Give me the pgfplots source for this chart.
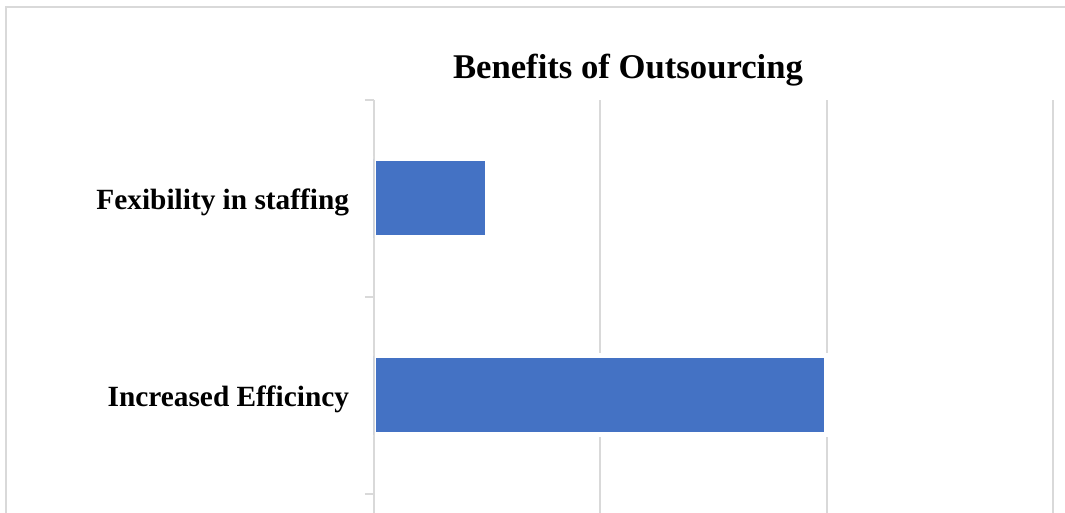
\documentclass[border=0pt]{standalone}
\usepackage{fontspec}
\setmainfont{Liberation Serif}
\usepackage{pgfplots}
\pgfplotsset{compat=1.18}
\definecolor{barblue}{HTML}{4472C4}
\definecolor{gridgray}{HTML}{D9D9D9}
\begin{document}
\begin{tikzpicture}[x=0.75pt,y=0.75pt]
\useasboundingbox (0,0) rectangle (1065,513);
\clip (0,0) rectangle (1065,513);
\fill[white] (0,0) rectangle (1065,513);
\draw[gridgray, line width=1.5pt] (6,-10) -- (6,506) -- (1080,506);
\begin{axis}[
  at={(280.5pt,-133.5pt)}, anchor=south west, scale only axis,
  width=509.25pt, height=443.25pt,
  xbar, bar width=59.25pt,
  xmin=0, xmax=3, ymin=-0.5, ymax=2.5,
  xtick={0,1,2,3}, xticklabels={},
  xmajorgrids, grid style={gridgray, line width=1.5pt},
  axis line style={draw=none},
  tick pos=left, tick align=outside,
  major tick length=0pt,
  ytick={1,2}, yticklabels={Increased Efficincy, Fexibility in staffing},
  minor ytick={0.5,1.5,2.5}, minor tick length=6.75pt,
  minor tick style={gridgray, line width=1.5pt},
  yticklabel style={font=\bfseries\fontsize{22}{26}\selectfont, anchor=east, inner sep=0pt, xshift=-18.5pt, yshift=-3pt},
]
\addplot[fill=barblue, draw=white, line width=3.75pt] coordinates {(2,1) (0.5,2)};
\draw[gridgray, line width=1.5pt] (axis cs:0,-0.5) -- (axis cs:0,2.5);
\end{axis}
\node[font=\bfseries\fontsize{26}{30}\selectfont, anchor=base] at (628,434.5) {Benefits of Outsourcing};
\end{tikzpicture}
\end{document}
